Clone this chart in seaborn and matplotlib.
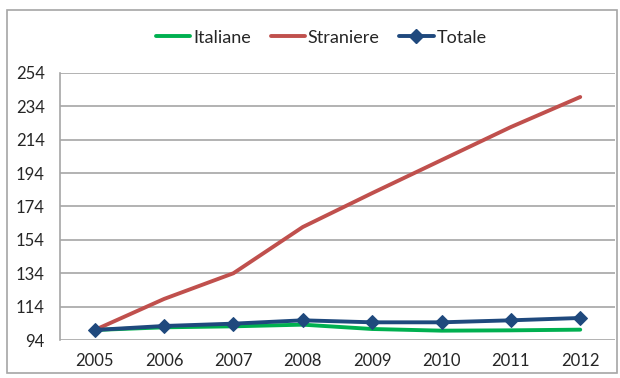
import matplotlib
matplotlib.use("Agg")
import matplotlib.pyplot as plt
import seaborn as sns
import pandas as pd
from matplotlib.patches import Rectangle
from matplotlib.lines import Line2D

years = ["2005", "2006", "2007", "2008", "2009", "2010", "2011", "2012"]
italiane = [100, 101.6, 102.2, 103.2, 100.6, 99.6, 99.8, 100.2]
straniere = [100, 118.6, 134, 161.7, 182, 201.8, 221.6, 239.6]
totale = [100, 102.4, 103.8, 105.8, 104.6, 104.6, 105.8, 107.2]
yticks = [94, 114, 134, 154, 174, 194, 214, 234, 254]

sns.set_style("white")
plt.rcParams['font.family'] = ['Lato', 'DejaVu Sans']

pos = list(range(len(years)))
df = pd.DataFrame({"pos": pos, "Italiane": italiane, "Straniere": straniere, "Totale": totale})

fig = plt.figure(figsize=(6.2, 3.78), dpi=100)
ax = fig.add_axes([0.0968, 0.1005, 0.895, 0.7065])

# outer frame
fig.patches.append(Rectangle((0.011, 0.012), 0.984, 0.962, transform=fig.transFigure,
                             fill=False, edgecolor="#a6a6a6", lw=1.2))

green, red, blue = "#00B050", "#C0504D", "#1F497D"
sns.lineplot(data=df, x="pos", y="Italiane", ax=ax, color=green, lw=2.8)
sns.lineplot(data=df, x="pos", y="Straniere", ax=ax, color=red, lw=2.8)
sns.lineplot(data=df, x="pos", y="Totale", ax=ax, color=blue, lw=2.8,
             marker="D", markersize=7, markeredgecolor=blue)

ax.set_xlim(-0.5, len(years) - 0.5)
ax.set_ylim(94, 254)
ax.set_yticks(yticks)
ax.set_yticklabels([str(v) for v in yticks])
ax.set_xticks(pos)
ax.set_xticklabels(years)
ax.set_xticks([p - 0.5 for p in pos] + [len(years) - 0.5], minor=True)
ax.tick_params(axis="x", which="major", length=0, pad=9, labelsize=12)
ax.tick_params(axis="x", which="minor", length=5, color="#a6a6a6", direction="out")
ax.tick_params(axis="y", length=5, color="#a6a6a6", direction="out", labelsize=12, pad=6)
ax.set_xlabel("")
ax.set_ylabel("")
ax.yaxis.grid(True, color="#a6a6a6", lw=1.2)
ax.set_axisbelow(True)
for s in ["top", "right", "bottom"]:
    ax.spines[s].set_visible(False)
ax.spines["left"].set_color("#a6a6a6")
ax.spines["left"].set_linewidth(1.2)

handles = [Line2D([], [], color=green, lw=2.8),
           Line2D([], [], color=red, lw=2.8),
           Line2D([], [], color=blue, lw=2.8, marker="D", markersize=7)]
fig.legend(handles, ["Italiane", "Straniere", "Totale"], loc="center",
           bbox_to_anchor=(0.518, 0.9), ncol=3, frameon=False, fontsize=13,
           handlelength=1.9, handletextpad=0.15, columnspacing=1.1)

fig.savefig("out.png", dpi=100)
